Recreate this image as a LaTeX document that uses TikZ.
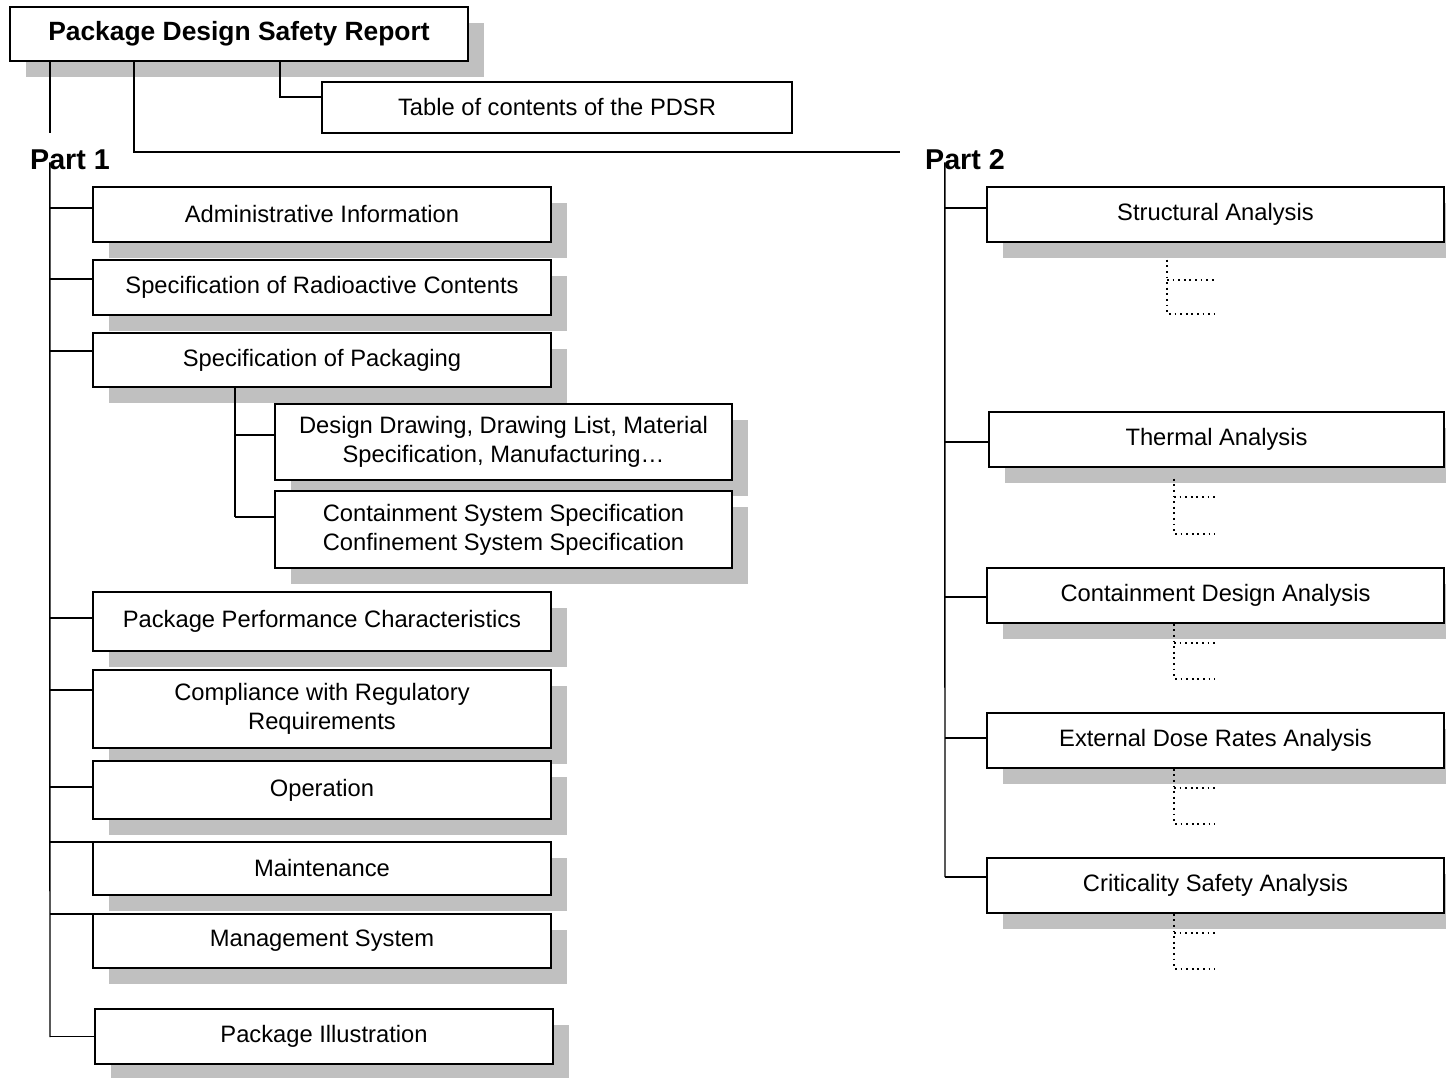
\documentclass[tikz,border=0pt]{standalone}
\usepackage{fontspec}
\setmainfont{Liberation Sans}
\usepackage{tikz}
\usetikzlibrary{calc}
\definecolor{ink}{HTML}{000000}
\definecolor{shade}{HTML}{C0C0C0}

\begin{document}
\begin{tikzpicture}[
  x=0.75pt,y=-0.75pt,
  every node/.style={font=\fontsize{17.8pt}{21.75pt}\selectfont},
  plainbox/.style={draw=ink,line width=1.1pt,fill=white,align=center,inner sep=2pt,
    minimum width=343.5pt,minimum height=41.25pt},
  box/.style={plainbox,preaction={fill=shade,transform canvas={shift={(12pt,-12pt)}}}},
  part/.style={font=\fontsize{21.5pt}{24pt}\selectfont\bfseries,inner sep=0pt},
  line/.style={line width=1.1pt,color=ink},
  dots/.style={line width=1.4pt,color=ink,dash pattern=on 1.4pt off 2.8pt}
]
\useasboundingbox (0,0) rectangle (1446,1078);

% report and its table of contents
\node[box,minimum height=40.5pt,font=\fontsize{19.8pt}{24pt}\selectfont\bfseries] (ttl) at (239,34) {Package Design Safety Report};
\node[plainbox,minimum width=352.5pt,minimum height=38.25pt] (toc) at (557,107.5) {Table of contents of the PDSR};
\node[part] (p1) at (70,160) {Part 1};
\node[part] (p2) at (965,160) {Part 2};

% part 1
\node[box] (adm) at (322,214.5) {Administrative Information};
\node[box] (rad) at (322,287.5) {Specification of Radioactive Contents};
\node[box,minimum height=40.5pt] (pkg) at (322,360) {Specification of Packaging};
\node[box,minimum width=342.75pt,minimum height=57pt] (drw) at (503.5,442) {Design Drawing, Drawing List, Material\\Specification, Manufacturing…};
\node[box,minimum width=342.75pt,minimum height=57.75pt] (cnt) at (503.5,529.5) {Containment System Specification\\Confinement System Specification};
\node[box,minimum height=44.25pt] (perf) at (322,621.5) {Package Performance Characteristics};
\node[box,minimum height=58.5pt] (comp) at (322,709) {Compliance with Regulatory\\Requirements};
\node[box,minimum height=43.5pt] (oper) at (322,790) {Operation};
\node[box,minimum height=39.75pt] (mnt) at (322,868.5) {Maintenance};
\node[box,minimum height=40.5pt] (mgt) at (322,941) {Management System};
\node[box] (ill) at (324,1036.5) {Package Illustration};

% part 2
\node[box,minimum width=342.75pt] (str) at (1215.5,214.5) {Structural Analysis};
\node[box,minimum width=341.25pt] (thm) at (1216.5,439.5) {Thermal Analysis};
\node[box,minimum width=342.75pt] (cda) at (1215.5,595.5) {Containment Design Analysis};
\node[box,minimum width=342.75pt] (edr) at (1215.5,740.5) {External Dose Rates Analysis};
\node[box,minimum width=342.75pt] (crt) at (1215.5,885.5) {Criticality Safety Analysis};

\coordinate (t1) at (50,133);
\coordinate (s1) at (50,1037);
\coordinate (s2) at (945,877);
\coordinate (s3) at (235,517);

% connectors from the report
\draw[line] (ttl.south -| t1) -- (t1);
\draw[line] ($(ttl.south)+(-105,0)$) |- ($(p2.west)+(-25,-8)$);
\draw[line] ($(ttl.south)+(41,0)$) |- ($(toc.west)+(0,-10.5)$);

% part 1 tree
\draw[line] ($(p1.south west)+(20,-8)$) -- (s1);
\draw[line] ($(adm.west)+(0,-6.5)$) -- ($(adm.west -| s1)+(0,-6.5)$);
\draw[line] ($(rad.west)+(0,-8.5)$) -- ($(rad.west -| s1)+(0,-8.5)$);
\draw[line] ($(pkg.west)+(0,-9)$) -- ($(pkg.west -| s1)+(0,-9)$);
\draw[line] ($(perf.west)+(0,-3.5)$) -- ($(perf.west -| s1)+(0,-3.5)$);
\draw[line] ($(comp.west)+(0,-19)$) -- ($(comp.west -| s1)+(0,-19)$);
\draw[line] ($(oper.west)+(0,-3)$) -- ($(oper.west -| s1)+(0,-3)$);
\draw[line] ($(mnt.west)+(0,-26.5)$) -- ($(mnt.west -| s1)+(0,-26.5)$);
\draw[line] ($(mgt.west)+(0,-27)$) -- ($(mgt.west -| s1)+(0,-27)$);
\draw[line] (ill.west) -- (ill.west -| s1);

% packaging sub tree
\draw[line] (pkg.south -| s3) -- (s3);
\draw[line] ($(drw.west)+(0,-7)$) -- ($(drw.west -| s3)+(0,-7)$);
\draw[line] (s3) -- (s3 -| cnt.west);

% part 2 tree
\draw[line] ($(p2.south west)+(20,-8)$) -- (s2);
\draw[line] ($(str.west)+(0,-6.5)$) -- ($(str.west -| s2)+(0,-6.5)$);
\draw[line] ($(thm.west)+(0,2.5)$) -- ($(thm.west -| s2)+(0,2.5)$);
\draw[line] ($(cda.west)+(0,1.5)$) -- ($(cda.west -| s2)+(0,1.5)$);
\draw[line] ($(edr.west)+(0,-2.5)$) -- ($(edr.west -| s2)+(0,-2.5)$);
\draw[line] (crt.west |- s2) -- (s2);

% dotted sub items
\draw[dots] ($(str.south)+(-48.5,17)$) |- ($(str.south)+(-1.5,71)$);
\draw[dots] ($(str.south)+(-48.5,37)$) -- ($(str.south)+(-1.5,37)$);
\draw[dots] ($(thm.south)+(-42.5,11)$) |- ($(thm.south)+(-1.5,66)$);
\draw[dots] ($(thm.south)+(-42.5,29)$) -- ($(thm.south)+(-1.5,29)$);
\draw[dots] ($(cda.south)+(-41.5,0)$) |- ($(cda.south)+(-0.5,55)$);
\draw[dots] ($(cda.south)+(-41.5,19)$) -- ($(cda.south)+(-0.5,19)$);
\draw[dots] ($(edr.south)+(-41.5,0)$) |- ($(edr.south)+(-0.5,55)$);
\draw[dots] ($(edr.south)+(-41.5,19)$) -- ($(edr.south)+(-0.5,19)$);
\draw[dots] ($(crt.south)+(-41.5,0)$) |- ($(crt.south)+(-0.5,55)$);
\draw[dots] ($(crt.south)+(-41.5,19)$) -- ($(crt.south)+(-0.5,19)$);
\end{tikzpicture}
\end{document}
